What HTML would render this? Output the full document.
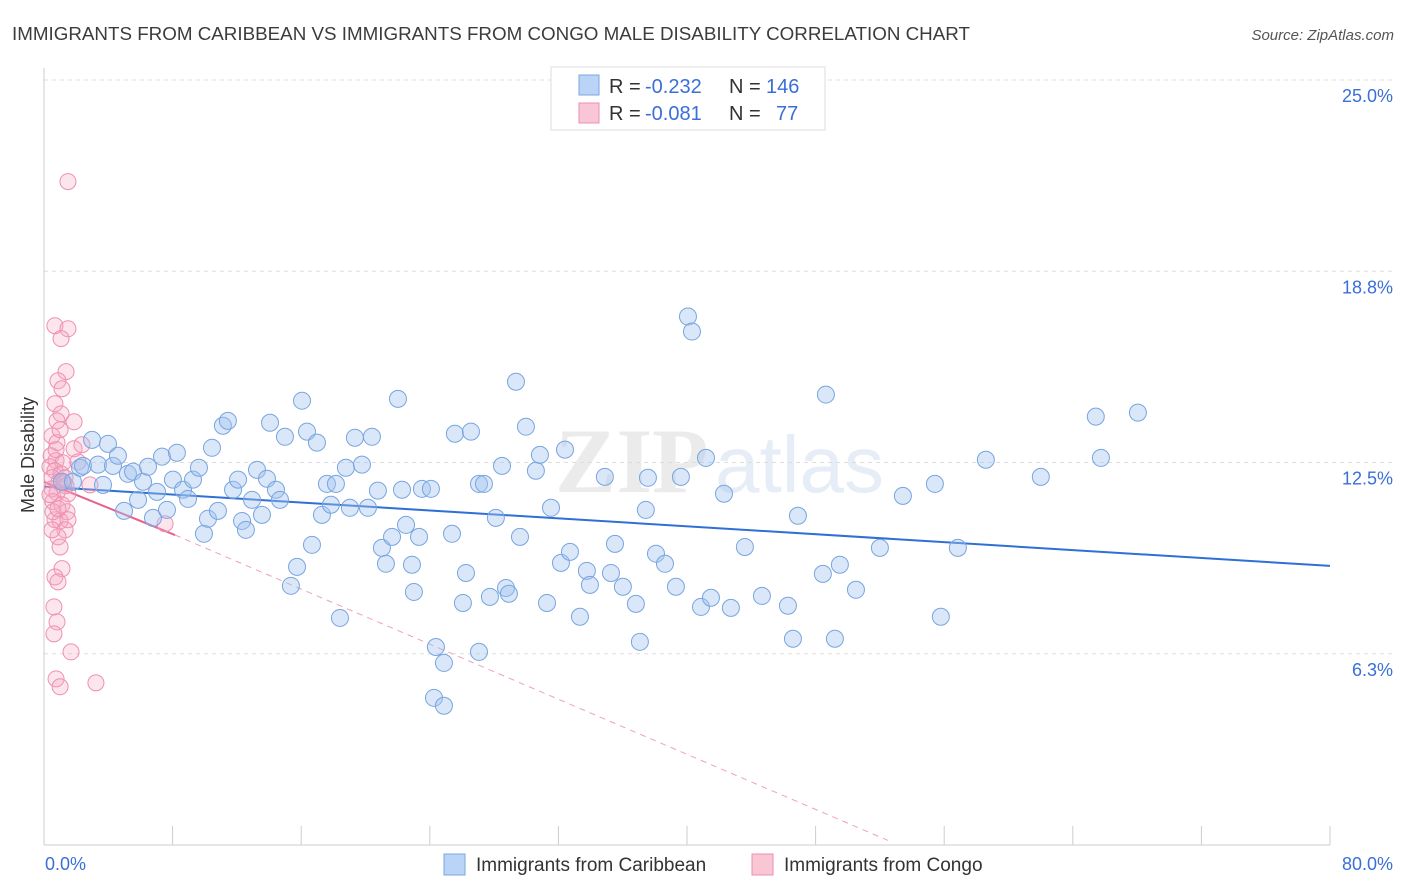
<!DOCTYPE html>
<html><head><meta charset="utf-8">
<style>
body{margin:0;background:#fff;font-family:"Liberation Sans",sans-serif;}
svg{display:block}
</style></head>
<body>
<svg id="chart" width="1406" height="892" viewBox="0 0 1406 892" xmlns="http://www.w3.org/2000/svg">
<text x="12" y="40" font-size="18.8" fill="#3c3c3c">IMMIGRANTS FROM CARIBBEAN VS IMMIGRANTS FROM CONGO MALE DISABILITY CORRELATION CHART</text>
<text x="1394" y="40" font-size="15" font-style="italic" fill="#555" text-anchor="end">Source: ZipAtlas.com</text>
<g opacity="0.35">
<text x="555" y="492" font-size="92" font-family="Liberation Serif,serif" fill="#c8c8c8" font-weight="bold">ZIP</text>
<text x="715" y="492" font-size="80" fill="#b8ccea">atlas</text>
</g>
<g id="grid"></g>
<g id="axes"></g>
<g id="trend"></g>
<g id="pts"></g>
<text transform="translate(34,455) rotate(-90)" font-size="18" fill="#333" text-anchor="middle">Male Disability</text>
<g>
<rect x="551" y="67" width="274" height="63" fill="#fff" stroke="#ddd"/>
<rect x="579" y="75" width="20" height="20" fill="#b9d4f6" stroke="#7aa7e0"/>
<rect x="579" y="103" width="20" height="20" fill="#f9c6d6" stroke="#ee8fb0"/>
<text x="609" y="93" font-size="20" fill="#333">R =</text>
<text x="645" y="93" font-size="20" fill="#3a6fd8">-0.232</text>
<text x="729" y="93" font-size="20" fill="#333">N =</text>
<text x="766" y="93" font-size="20" fill="#3a6fd8">146</text>
<text x="609" y="120" font-size="20" fill="#333">R =</text>
<text x="645" y="120" font-size="20" fill="#3a6fd8">-0.081</text>
<text x="729" y="120" font-size="20" fill="#333">N =</text>
<text x="776" y="120" font-size="20" fill="#3a6fd8">77</text>
</g>
<g>
<rect x="444" y="854" width="21" height="21" fill="#b9d4f6" stroke="#7aa7e0"/>
<text x="476" y="871" font-size="19" fill="#333">Immigrants from Caribbean</text>
<rect x="752" y="854" width="21" height="21" fill="#f9c6d6" stroke="#ee8fb0"/>
<text x="784" y="871" font-size="19" fill="#333">Immigrants from Congo</text>
</g>
</svg>
<script>
const yTicks=[6.25,12.5,18.75,25];
const yTickLabels=["6.3%","12.5%","18.8%","25.0%"];
const xTickCount=10;
const xLabels=["0.0%","80.0%"];
const blueX=[1.12,1.80,2.24,2.43,2.99,3.36,3.67,3.98,4.29,4.60,4.98,5.22,5.54,5.85,6.16,6.47,6.78,7.03,7.34,7.65,8.02,8.27,8.65,8.96,9.27,9.64,9.95,10.20,10.45,10.82,11.13,11.44,11.76,12.07,12.32,12.56,12.94,13.25,13.56,13.87,14.06,14.43,14.68,14.99,15.36,15.74,16.05,16.36,16.67,16.98,17.29,17.60,17.85,18.16,18.41,18.78,19.03,19.34,19.78,20.15,20.40,20.77,21.02,21.27,21.65,22.02,22.27,22.52,22.89,23.01,23.33,23.51,24.07,24.38,24.88,24.26,24.88,25.38,25.56,26.25,26.06,26.56,27.06,27.37,27.06,27.74,28.11,28.49,28.74,28.92,29.36,29.61,29.98,30.60,30.85,31.29,31.54,32.16,32.41,32.72,33.34,33.77,33.96,34.89,35.27,35.52,36.01,36.82,37.07,37.57,37.44,38.07,38.63,39.31,39.62,40.06,40.31,40.87,41.18,41.49,42.30,42.73,43.60,44.66,46.28,46.59,46.90,48.45,48.64,49.20,49.51,50.51,52.00,53.43,55.42,55.79,56.85,58.59,62.01,65.43,65.75,68.05];
const blueY=[11.87,11.87,12.33,12.39,13.24,12.43,11.77,13.11,12.39,12.72,10.92,12.13,12.20,11.28,11.87,12.36,10.69,11.54,12.69,10.95,11.94,12.82,11.61,11.31,11.94,12.33,10.17,10.66,12.98,10.92,13.70,13.86,11.61,11.94,10.59,10.30,11.28,12.26,10.79,11.97,13.80,11.61,11.28,13.34,8.47,9.09,14.52,13.51,9.81,13.15,10.79,11.80,11.12,11.80,7.42,12.33,11.02,13.31,12.43,11.02,13.34,11.58,9.71,9.19,10.07,14.58,11.61,10.46,9.16,8.27,10.07,11.64,11.64,6.47,5.95,4.81,4.55,10.17,13.44,8.89,7.91,13.51,11.80,11.80,6.31,8.11,10.69,12.39,8.40,8.21,15.14,10.07,13.67,12.23,12.75,7.91,11.02,9.22,12.92,9.58,7.46,8.96,8.50,12.03,8.89,9.84,8.44,7.88,6.64,12.00,10.95,9.52,9.19,8.44,12.03,17.27,16.78,7.78,12.65,8.08,11.48,7.75,9.74,8.14,7.82,6.74,10.76,8.86,14.72,6.74,9.16,8.34,9.71,11.41,11.80,7.46,9.71,12.59,12.03,14.00,12.65,14.13];
const pinkX=[1.49,0.68,1.49,1.06,1.37,0.87,1.12,0.68,1.06,1.87,0.81,0.50,0.81,1.87,0.44,0.75,1.18,0.37,0.68,1.06,1.31,0.50,0.93,1.37,0.50,0.81,1.49,0.56,1.12,1.43,0.68,1.00,1.49,1.31,0.87,1.00,1.12,0.68,0.87,0.62,0.81,0.62,1.68,0.75,1.00,3.23,2.86,7.53,0.56,0.50,0.87,1.24,0.37,0.75,1.00,2.11,2.36];
const pinkY=[21.68,16.97,16.87,16.55,15.47,15.17,14.91,14.42,14.09,13.83,13.86,13.37,13.15,12.95,12.72,12.56,12.49,12.36,12.23,12.13,12.00,12.00,11.87,11.74,11.64,11.51,11.48,11.22,11.12,10.89,10.63,10.59,10.63,10.30,10.07,9.74,9.03,8.76,8.60,7.78,7.29,6.90,6.31,5.43,5.17,5.30,11.77,10.50,10.89,10.30,10.99,11.84,11.45,12.92,13.57,12.52,13.08];
const blueTrend=[[0,11.71],[80,9.12]];
const pinkTrendSolid=[[0,11.87],[8.15,10.13]];
const pinkTrendDash=[[8.15,10.13],[52.5,0.15]];

const NS="http://www.w3.org/2000/svg";
const X0=44,X1=1330,Y0=845,Y25=80;
const sx=v=>X0+(v/80)*(X1-X0);
const sy=v=>Y0-(v/25)*(Y0-Y25);
function mk(tag,attrs,parent){const e=document.createElementNS(NS,tag);for(const k in attrs)e.setAttribute(k,attrs[k]);parent.appendChild(e);return e;}
const grid=document.getElementById('grid'),axes=document.getElementById('axes'),trend=document.getElementById('trend'),pts=document.getElementById('pts');
yTicks.forEach((t,i)=>{
 const l=mk('line',{x1:X0,x2:1395,y1:sy(t),y2:sy(t),stroke:'#ddd','stroke-dasharray':'4,4'},grid);
 
 
 const tx=mk('text',{x:1393,y:sy(t)+22,'font-size':18,fill:'#3a6fd8','text-anchor':'end'},grid);
 tx.textContent=yTickLabels[i];
 
 
});
const ya=mk('line',{x1:X0,x2:X0,y1:68,y2:Y0,stroke:'#ccc'},axes);


const xa=mk('line',{x1:X0,x2:X1,y1:Y0,y2:Y0,stroke:'#ccc'},axes);


for(let i=1;i<=xTickCount;i++){const v=80*i/xTickCount;
 const t=mk('line',{x1:sx(v),x2:sx(v),y1:826,y2:Y0,stroke:'#ccc'},axes);
 
 }
const xl0=mk('text',{x:45,y:870,'font-size':18,fill:'#3a6fd8'},axes);xl0.textContent=xLabels[0];


const xl1=mk('text',{x:1393,y:870,'font-size':18,fill:'#3a6fd8','text-anchor':'end'},axes);xl1.textContent=xLabels[1];


pinkX.forEach((x,i)=>{const c=mk('circle',{cx:sx(x),cy:sy(pinkY[i]),r:8,fill:'rgba(246,170,196,0.3)',stroke:'#ee90b1','stroke-width':1},pts);
 
 });
blueX.forEach((x,i)=>{const c=mk('circle',{cx:sx(x),cy:sy(blueY[i]),r:8.5,fill:'rgba(160,196,240,0.4)',stroke:'#78a5df','stroke-width':1},pts);
 
 });
const bl=mk('line',{x1:sx(blueTrend[0][0]),y1:sy(blueTrend[0][1]),x2:sx(blueTrend[1][0]),y2:sy(blueTrend[1][1]),stroke:'#2f6fd6','stroke-width':2},trend);


const pd=mk('line',{x1:sx(pinkTrendDash[0][0]),y1:sy(pinkTrendDash[0][1]),x2:sx(pinkTrendDash[1][0]),y2:sy(pinkTrendDash[1][1]),stroke:'#f0a0bc','stroke-width':1,'stroke-dasharray':'6,5'},trend);


const ps=mk('line',{x1:sx(pinkTrendSolid[0][0]),y1:sy(pinkTrendSolid[0][1]),x2:sx(pinkTrendSolid[1][0]),y2:sy(pinkTrendSolid[1][1]),stroke:'#e8608f','stroke-width':2},trend);


</script>
</body></html>
